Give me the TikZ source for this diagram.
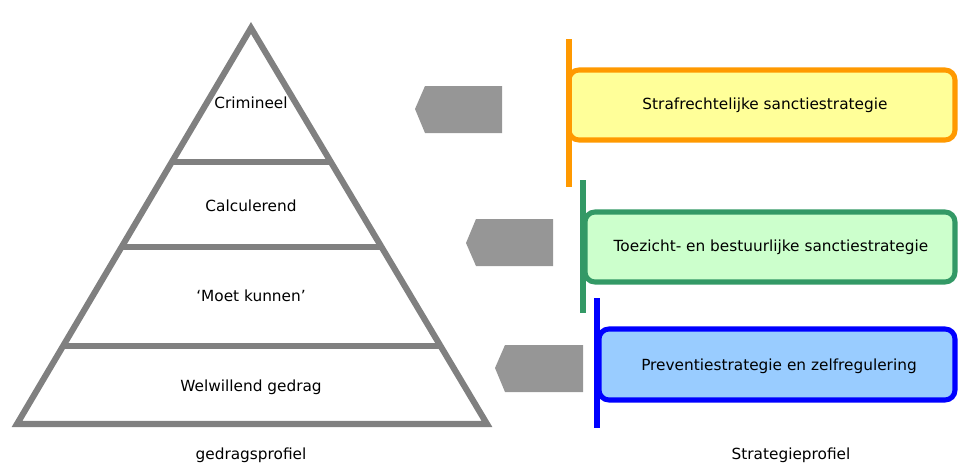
\documentclass[tikz,border=0pt]{standalone}
\usepackage{fontspec}
\setmainfont{DejaVu Sans}
\usetikzlibrary{calc}
\definecolor{pyrgray}{HTML}{808080}
\definecolor{arrgray}{HTML}{969696}
\definecolor{orng}{HTML}{FF9900}
\definecolor{yel}{HTML}{FFFF99}
\definecolor{grn}{HTML}{339966}
\definecolor{lgrn}{HTML}{CCFFCC}
\definecolor{blu}{HTML}{0000FF}
\definecolor{lblu}{HTML}{99CCFF}
\tikzset{
  lbl/.style={font=\fontsize{11.5}{13.5}\selectfont, inner sep=0pt},
  pyr/.style={draw=pyrgray, line width=4.6pt, line join=miter},
  layer/.style={draw=pyrgray, line width=3.8pt},
  arr/.style={fill=arrgray, draw=none},
  sbox/.style={rounded corners=7.5pt, line width=3.8pt},
  vbar/.style={line width=3.8pt},
}
\begin{document}
\begin{tikzpicture}[x=0.75pt,y=-0.75pt]
\useasboundingbox (0,0) rectangle (958,464);
% pyramid
\coordinate (apex) at (251,28);
\coordinate (bl) at (17,424);
\coordinate (br) at (487,424);
\draw[pyr] (apex) -- (bl) -- (br) -- cycle;
\foreach \y/\n in {162/a,247/b,346/c}{
  \pgfmathsetmacro\t{(\y-28)/396}
  \coordinate (L\n) at ($(apex)!\t!(bl)$);
  \coordinate (R\n) at ($(apex)!\t!(br)$);
  \draw[layer] (L\n) -- (R\n);
}
\node[lbl] (crim) at (251,103) {Crimineel};
\node[lbl] (calc) at (251,206) {Calculerend};
\node[lbl] (moet) at (251,296) {‘Moet kunnen’};
\node[lbl] (welw) at (251,387) {Welwillend gedrag};
\node[lbl, anchor=base] (gedr) at (251,459) {gedragsprofiel};
% gray arrows
\draw[arr] (415,109) -- (425,86) -- (502,86) -- (502,133) -- (425,133) -- cycle;
\draw[arr] (466,243) -- (476,219) -- (553,219) -- (553,266) -- (476,266) -- cycle;
\draw[arr] (495,368) -- (505,345) -- (583,345) -- (583,392) -- (505,392) -- cycle;
% boxes
\draw[sbox, draw=orng, fill=yel] (569,70) rectangle (955,140);
\draw[sbox, draw=grn, fill=lgrn] (585,212) rectangle (955,282);
\draw[sbox, draw=blu, fill=lblu] (599,329) rectangle (955,400);
% vertical bars
\coordinate (o1) at (569,39); \coordinate (o2) at (569,187);
\coordinate (g1) at (583,180); \coordinate (g2) at (583,313);
\coordinate (b1) at (597,298); \coordinate (b2) at (597,428);
\draw[vbar, draw=orng] (o1) -- (o2);
\draw[vbar, draw=grn] (g1) -- (g2);
\draw[vbar, draw=blu] (b1) -- (b2);
\node[lbl] (s1) at (765,105) {Strafrechtelijke sanctiestrategie};
\node[lbl] (s2) at (771,247) {Toezicht- en bestuurlijke sanctiestrategie};
\node[lbl] (s3) at (779,366) {Preventiestrategie en zelfregulering};
\node[lbl, anchor=base] (strat) at (791,459) {Strategieprofiel};
\end{tikzpicture}
\end{document}
